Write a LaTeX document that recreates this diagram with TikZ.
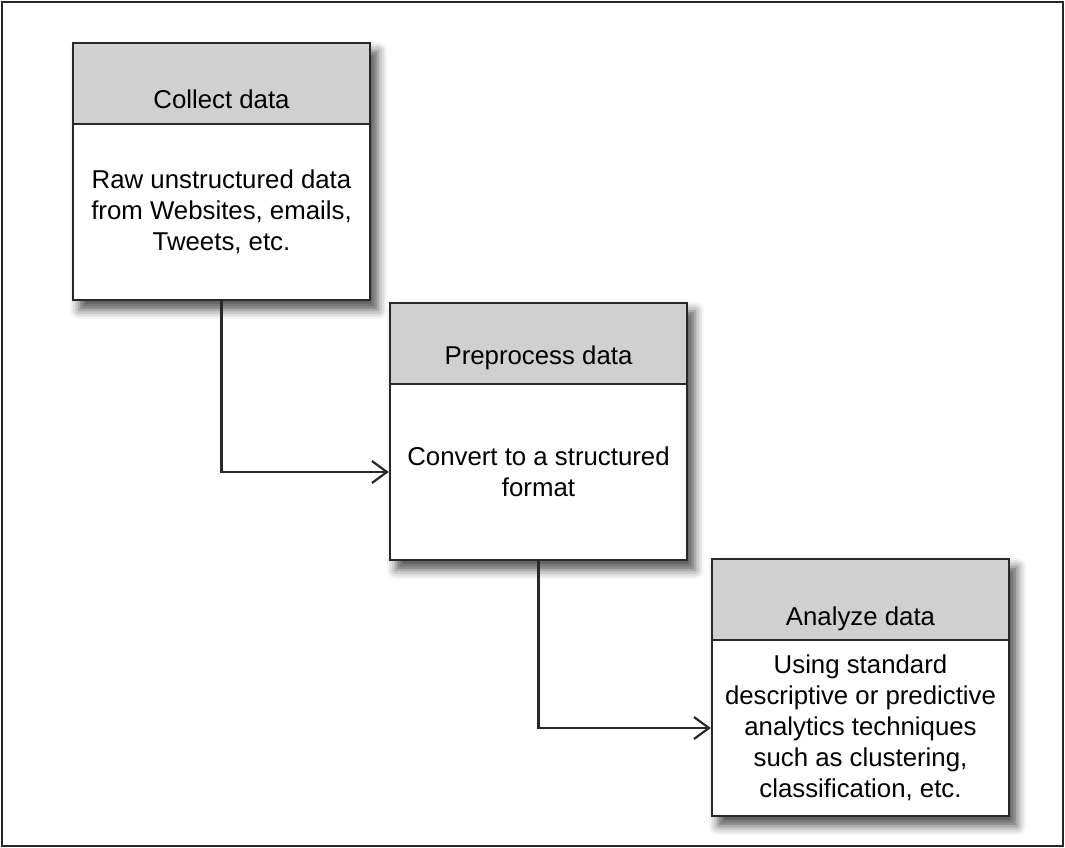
\documentclass[tikz,border=0pt]{standalone}
\usepackage{fontspec}
\setmainfont{Liberation Sans}
\usetikzlibrary{arrows.meta,shadows.blur,fit,backgrounds}
\definecolor{hdrgray}{RGB}{208,208,208}
\definecolor{edge}{RGB}{40,40,40}
\tikzset{
  box/.style={draw=edge, line width=2.4pt, minimum width=297pt, inner sep=0pt,
    align=center, font=\fontsize{25.8}{31}\selectfont},
  hdr/.style={box, fill=hdrgray, minimum height=81pt},
  bodybox/.style={box, fill=white, minimum height=176pt},
  shadowbox/.style={fill=white, inner sep=0pt, draw=none,
    blur shadow={shadow xshift=7pt, shadow yshift=-9pt, shadow blur radius=9pt, shadow opacity=65}},
  conn/.style={draw=edge, line width=2.2pt,
    -{Straight Barb[length=15pt, width=22pt, line width=2.2pt]}},
  frame/.style={draw=edge, line width=2pt}
}
\begin{document}
\begin{tikzpicture}[x=1pt,y=-1pt]
\useasboundingbox (0,0) rectangle (1065,848);
\draw[frame] (2,2) rectangle (1063,846);

% box 1
\node[hdr, text height=66pt, text depth=15pt] (h1) at (221.5,83.5) {Collect data};
\node[bodybox] (b1) at (221.5,212) {Raw unstructured data\\from Websites, emails,\\Tweets, etc.};
% box 2
\node[hdr, text height=61pt, text depth=20pt] (h2) at (538.5,343.5) {Preprocess data};
\node[bodybox] (b2) at (538.5,472) {Convert to a structured\\format};
% box 3
\node[hdr, text height=66pt, text depth=15pt] (h3) at (860.5,599.5) {Analyze data};
\node[bodybox] (b3) at (860.5,728) {Using standard\\descriptive or predictive\\analytics techniques\\such as clustering,\\classification, etc.};

\begin{scope}[on background layer]
  \node[shadowbox, fit=(h1)(b1)] (s1) {};
  \node[shadowbox, fit=(h2)(b2)] (s2) {};
  \node[shadowbox, fit=(h3)(b3)] (s3) {};
\end{scope}

\draw[conn] (b1.south) |- (b2.west);
\draw[conn] (b2.south) |- (b3.west);
\end{tikzpicture}
\end{document}
